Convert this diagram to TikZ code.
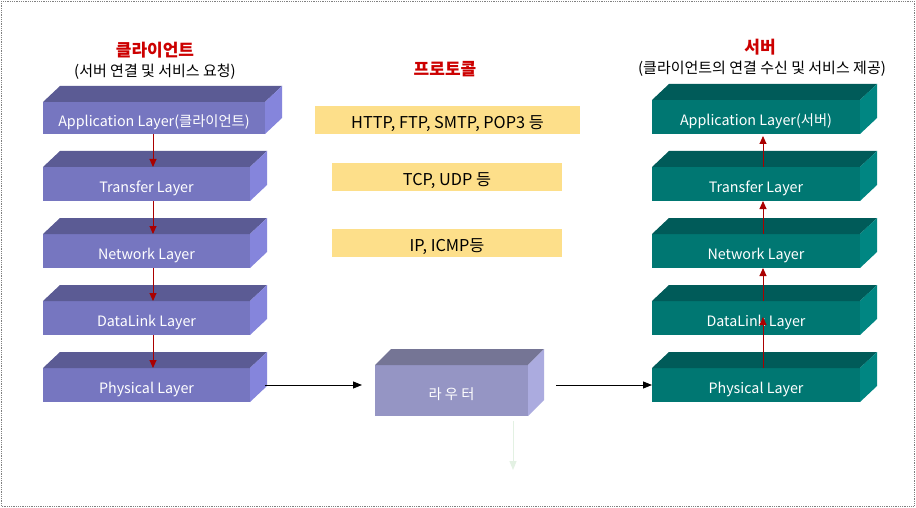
\documentclass[tikz,border=0pt]{standalone}
\usepackage{fontspec}
\setmainfont{Noto Sans CJK KR}
\usetikzlibrary{arrows.meta}
\definecolor{clfront}{HTML}{7676C0}
\definecolor{cltop}{HTML}{5B5B94}
\definecolor{clside}{HTML}{8585DC}
\definecolor{svfront}{HTML}{007772}
\definecolor{svtop}{HTML}{005B59}
\definecolor{svside}{HTML}{008682}
\definecolor{rtfront}{HTML}{9595C4}
\definecolor{rttop}{HTML}{757595}
\definecolor{rtside}{HTML}{ABABDF}
\definecolor{protofill}{HTML}{FDDF8A}
\definecolor{titlered}{HTML}{CC0000}
\definecolor{arrred}{HTML}{AA0000}
\definecolor{faintgreen}{HTML}{E3F1E3}
\tikzset{
  front/.style={inner sep=0pt, outer sep=0pt, text=white, text height=17pt, text depth=0pt, font=\fontsize{14.3}{16}\selectfont},
  proto/.style={fill=protofill, inner sep=0pt, outer sep=0pt, text height=17pt, text depth=0pt, font=\fontsize{16.3}{18}\selectfont},
  titletext/.style={text=titlered, font=\fontsize{17}{19}\selectfont\bfseries},
  subtext/.style={font=\fontsize{15}{17}\selectfont}
}
\tikzset{
  redarrow/.style={arrred, line width=0.9pt, -{Triangle[length=8pt,width=7pt]}},
  blackarrow/.style={black, line width=0.9pt, -{Triangle[length=9pt,width=7pt]}},
  faintarrow/.style={faintgreen, line width=1pt, -{Triangle[length=9pt,width=7pt]}}
}
% prefix, name, x1, y1, x2, y2, text, depth
\newcommand\mkbox[8]{%
  \node[front, fill=#1front, minimum width={(#5-#3)*1pt}, minimum height={(#6-#4)*1pt}] (#2) at ({(#3+#5)/2},{(#4+#6)/2}) {#7};
  \fill[#1top] (#2.north west) -- ++(#8,-16) -- ++({#5-#3},0) -- (#2.north east) -- cycle;
  \fill[#1side] (#2.north east) -- ++(#8,-16) -- ++(0,{#6-#4}) -- (#2.south east) -- cycle;
}
\begin{document}
\begin{tikzpicture}[x=1pt, y=-1pt]
\useasboundingbox (0,0) rectangle (916,508);
\fill[white] (0,0) rectangle (916,508);
\draw[gray, densely dotted, line width=0.8pt] (1,1) rectangle (914,506);

% titles
\node[titletext] (ct) at (155,50) {클라이언트};
\node[subtext] (cs) at (155,72) {(서버 연결 및 서비스 요청)};
\node[titletext] (pt) at (445,69) {프로토콜};
\node[titletext] (st) at (760,47) {서버};
\node[subtext] (ss) at (762,69) {(클라이언트의 연결 수신 및 서비스 제공)};

% client stack
\mkbox{cl}{cApp}{43}{102}{265}{134}{Application Layer(클라이언트)}{17}
\mkbox{cl}{cTra}{43}{167}{250}{201}{Transfer Layer}{17}
\mkbox{cl}{cNet}{43}{234}{250}{268}{Network Layer}{17}
\mkbox{cl}{cDat}{43}{301}{250}{335}{DataLink Layer}{17}
\mkbox{cl}{cPhy}{43}{368}{250}{402}{Physical Layer}{17}

% server stack
\mkbox{sv}{sApp}{652}{100}{860}{134}{Application Layer(서버)}{17}
\mkbox{sv}{sTra}{652}{167}{860}{201}{Transfer Layer}{17}
\mkbox{sv}{sNet}{652}{234}{860}{268}{Network Layer}{17}
\mkbox{sv}{sDat}{652}{301}{860}{335}{DataLink Layer}{17}
\mkbox{sv}{sPhy}{652}{368}{860}{402}{Physical Layer}{17}

% router
\mkbox{rt}{rt}{375}{365}{528}{416}{라 우 터}{16}

% protocol boxes
\node[proto, minimum width=265pt, minimum height=28pt] (p1) at (447.5,120) {HTTP, FTP, SMTP, POP3 등};
\node[proto, minimum width=230pt, minimum height=28pt] (p2) at (447,177) {TCP, UDP 등};
\node[proto, minimum width=230pt, minimum height=28pt] (p3) at (447,243) {IP, ICMP등};

% client arrows (down)
\draw[redarrow] (153,0 |- cApp.south) -- (153,0 |- cTra.north);
\draw[redarrow] (153,0 |- cTra.south) -- (153,0 |- cNet.north);
\draw[redarrow] (153,0 |- cNet.south) -- (153,0 |- cDat.north);
\draw[redarrow] (153,0 |- cDat.south) -- (153,0 |- cPhy.north);

% server arrows (up)
\coordinate (sDatTip) at (763,317);
\draw[redarrow] (763,0 |- sPhy.north) -- (sDatTip);
\draw[redarrow] (763,0 |- sDat.north) -- (763,0 |- sNet.south);
\draw[redarrow] (763,0 |- sNet.north) -- (763,0 |- sTra.south);
\draw[redarrow] (763,0 |- sTra.north) -- ([yshift=-2pt]763,0 |- sApp.south);

% data path
\draw[blackarrow] ([xshift=15pt]cPhy.east) -- ([xshift=-13pt]rt.west |- cPhy.east);
\draw[blackarrow] ([xshift=28pt]rt.east |- sPhy.west) -- (sPhy.west);
\coordinate (gend) at (513,470);
\draw[faintarrow] ([yshift=-5pt]513,0 |- rt.south) -- (gend);
\end{tikzpicture}
\end{document}
